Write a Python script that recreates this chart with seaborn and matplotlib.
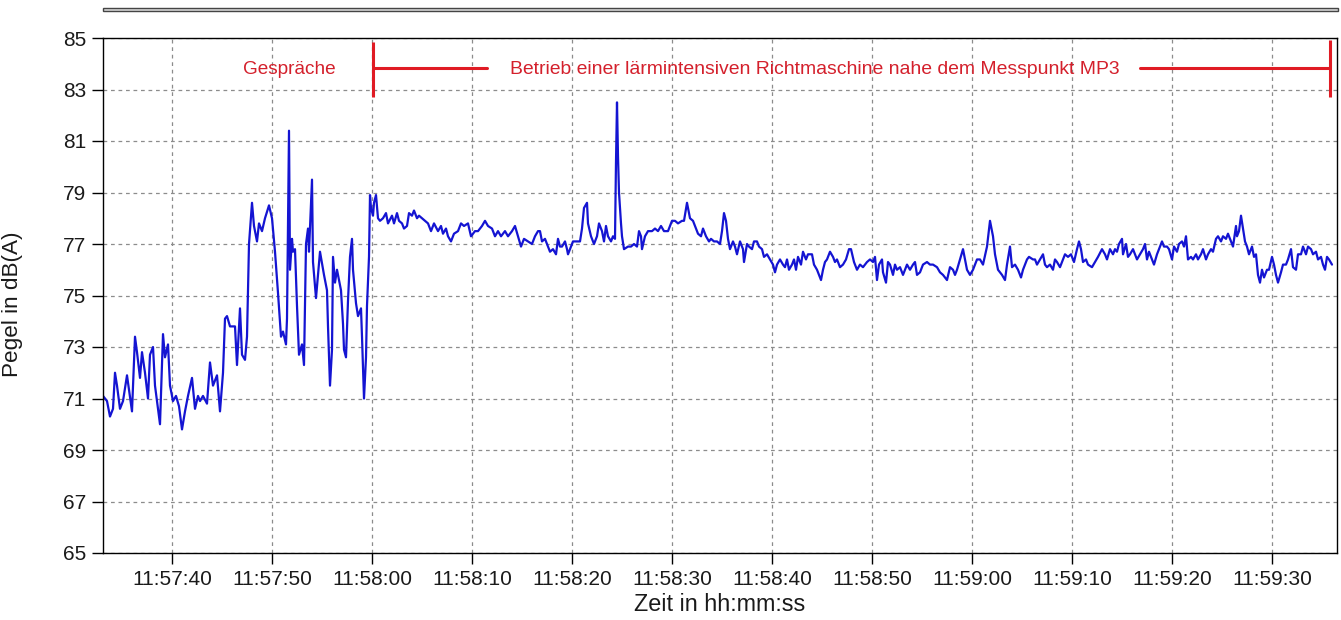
import matplotlib
matplotlib.use("Agg")
import matplotlib.pyplot as plt
import matplotlib.patches as mpatches
from matplotlib.ticker import FixedLocator, FuncFormatter
import seaborn as sns
import pandas as pd

# time in seconds after 11:57:00
t_sec = [
    33.1, 33.5, 33.8, 34.1, 34.3, 34.5, 34.8, 35.1, 35.5, 36.0, 36.3, 36.5, 36.8, 37.0, 37.3, 37.6, 37.8,
    38.1, 38.3, 38.5, 38.8, 39.1, 39.3, 39.6, 39.8, 40.1, 40.4, 40.7, 41.0, 41.3, 41.6, 42.0, 42.3, 42.6,
    42.8, 43.1, 43.5, 43.8, 44.1, 44.5, 44.8, 45.1, 45.3, 45.5, 45.8, 46.3, 46.5, 46.8, 47.0, 47.3, 47.5,
    47.7, 48.0, 48.2, 48.5, 48.7, 49.0, 49.3, 49.7, 50.0, 50.3, 50.6, 50.9, 51.1, 51.4, 51.5, 51.7, 51.8,
    52.0, 52.1, 52.3, 52.5, 52.7, 53.0, 53.2, 53.4, 53.6, 53.7, 54.0, 54.1, 54.4, 54.8, 55.2, 55.5, 55.6,
    55.8, 56.0, 56.1, 56.3, 56.5, 56.6, 56.9, 57.1, 57.2, 57.4, 57.6, 57.8, 58.0, 58.1, 58.4, 58.6, 58.9,
    59.0, 59.2, 59.4, 59.5, 59.7, 59.8, 59.9, 60.1, 60.2, 60.4, 60.6, 60.8, 61.1, 61.4, 61.6, 62.0, 62.2,
    62.5, 62.7, 63.0, 63.2, 63.5, 63.7, 64.0, 64.2, 64.5, 64.7, 65.0, 65.3, 65.6, 65.9, 66.2, 66.6, 66.9,
    67.1, 67.4, 67.6, 67.9, 68.2, 68.6, 68.9, 69.2, 69.6, 69.9, 70.3, 70.6, 71.0, 71.3, 71.6, 72.0, 72.3,
    72.6, 72.9, 73.3, 73.6, 74.0, 74.3, 74.6, 74.9, 75.2, 75.6, 76.0, 76.3, 76.6, 76.8, 77.0, 77.3, 77.6,
    77.8, 78.1, 78.4, 78.6, 78.8, 79.0, 79.3, 79.5, 79.6, 79.9, 80.1, 80.5, 80.8, 81.0, 81.2, 81.5, 81.6,
    81.9, 82.2, 82.5, 82.7, 83.0, 83.2, 83.4, 83.6, 83.9, 84.1, 84.3, 84.4, 84.5, 84.6, 84.7, 84.9, 85.0,
    85.2, 85.6, 85.9, 86.2, 86.5, 86.7, 86.9, 87.0, 87.3, 87.6, 88.0, 88.3, 88.6, 88.9, 89.2, 89.6, 90.0,
    90.3, 90.6, 91.0, 91.2, 91.5, 91.8, 92.1, 92.3, 92.6, 92.9, 93.1, 93.4, 93.7, 93.9, 94.2, 94.5, 94.8,
    95.0, 95.2, 95.4, 95.6, 95.8, 96.1, 96.3, 96.5, 96.8, 97.1, 97.2, 97.5, 97.7, 98.0, 98.2, 98.5, 98.7,
    99.0, 99.2, 99.5, 99.8, 100.1, 100.3, 100.5, 100.8, 101.1, 101.3, 101.5, 101.7, 102.0, 102.2, 102.4,
    102.6, 102.9, 103.1, 103.4, 103.6, 104.0, 104.2, 104.5, 104.7, 104.9, 105.1, 105.3, 105.5, 105.8,
    106.1, 106.3, 106.5, 106.8, 107.1, 107.4, 107.7, 107.9, 108.2, 108.5, 108.8, 109.1, 109.5, 109.8,
    110.1, 110.3, 110.5, 110.7, 111.0, 111.1, 111.4, 111.6, 111.8, 112.1, 112.3, 112.5, 112.8, 113.1,
    113.3, 113.5, 113.8, 114.1, 114.3, 114.5, 114.8, 115.1, 115.5, 115.8, 116.1, 116.5, 116.8, 117.1,
    117.5, 117.8, 118.1, 118.3, 118.5, 118.8, 119.1, 119.3, 119.5, 119.8, 120.1, 120.5, 120.8, 121.1,
    121.5, 121.8, 122.1, 122.3, 122.6, 123.0, 123.3, 123.5, 123.8, 124.0, 124.3, 124.6, 124.9, 125.1,
    125.5, 125.7, 126.1, 126.3, 126.5, 126.8, 127.1, 127.3, 127.5, 127.8, 128.1, 128.3, 128.5, 128.8,
    129.1, 129.3, 129.6, 129.9, 130.2, 130.5, 130.7, 130.9, 131.1, 131.4, 131.6, 132.0, 132.3, 132.6,
    133.0, 133.3, 133.5, 133.8, 134.1, 134.3, 134.5, 134.7, 135.0, 135.1, 135.4, 135.6, 135.8, 136.1,
    136.3, 136.5, 136.8, 137.1, 137.3, 137.5, 137.7, 138.0, 138.2, 138.5, 138.7, 139.0, 139.2, 139.5,
    139.7, 140.0, 140.2, 140.5, 140.7, 141.0, 141.2, 141.4, 141.6, 141.9, 142.1, 142.4, 142.6, 142.9,
    143.1, 143.4, 143.6, 143.9, 144.1, 144.4, 144.6, 144.9, 145.1, 145.4, 145.6, 145.9, 146.1, 146.4,
    146.5, 146.7, 146.9, 147.1, 147.3, 147.5, 147.7, 148.0, 148.2, 148.4, 148.6, 148.8, 149.0, 149.2,
    149.5, 149.7, 150.0, 150.2, 150.4, 150.6, 150.9, 151.1, 151.4, 151.6, 151.9, 152.1, 152.4, 152.6,
    152.9, 153.1, 153.4, 153.6, 153.9, 154.1, 154.4, 154.6, 154.9, 155.1, 155.3, 155.5, 155.7, 156.0,
]

pegel_db = [
    71.1, 70.9, 70.3, 70.6, 72.0, 71.5, 70.6, 70.9, 71.9, 70.5, 73.4, 72.8, 71.8, 72.8, 72.0, 71.0, 72.7,
    73.0, 71.5, 70.9, 70.0, 73.5, 72.6, 73.1, 71.5, 70.9, 71.1, 70.7, 69.8, 70.5, 71.1, 71.8, 70.6, 71.1,
    70.9, 71.1, 70.8, 72.4, 71.5, 71.9, 70.5, 72.0, 74.1, 74.2, 73.8, 73.8, 72.3, 74.5, 72.7, 72.5, 73.4,
    77.0, 78.6, 77.7, 77.1, 77.8, 77.5, 78.0, 78.5, 78.0, 76.7, 75.1, 73.4, 73.6, 73.1, 74.1, 81.4, 76.0,
    77.2, 76.7, 76.8, 74.6, 72.7, 73.1, 72.3, 77.0, 77.6, 76.7, 79.5, 76.3, 74.9, 76.7, 75.8, 75.2, 73.8,
    71.5, 72.9, 76.5, 75.5, 76.0, 75.8, 75.2, 73.9, 72.9, 72.6, 74.8, 76.5, 77.2, 76.0, 74.7, 74.2, 74.5,
    73.4, 71.0, 72.6, 74.6, 76.5, 78.9, 78.4, 78.1, 78.6, 78.9, 78.0, 77.9, 78.0, 78.2, 77.8, 78.1, 77.8,
    78.2, 77.9, 77.8, 77.6, 77.7, 78.2, 78.1, 78.3, 78.0, 78.1, 78.0, 77.9, 77.8, 77.5, 77.8, 77.5, 77.7,
    77.4, 77.6, 77.3, 77.1, 77.4, 77.5, 77.8, 77.7, 77.8, 77.3, 77.5, 77.5, 77.7, 77.9, 77.7, 77.6, 77.3,
    77.5, 77.3, 77.5, 77.3, 77.5, 77.7, 77.3, 76.9, 77.2, 77.1, 77.0, 77.3, 77.5, 77.5, 77.1, 77.2, 76.9,
    76.7, 76.8, 76.6, 77.2, 76.9, 76.9, 77.1, 76.8, 76.6, 76.9, 77.1, 77.1, 77.1, 77.6, 78.4, 78.6, 77.8,
    77.3, 77.0, 77.3, 77.8, 77.5, 77.1, 77.7, 77.3, 77.1, 77.3, 77.2, 80.2, 82.5, 80.4, 79.0, 77.8, 77.3,
    76.8, 76.9, 76.9, 77.0, 76.9, 77.5, 77.3, 76.8, 77.3, 77.5, 77.5, 77.6, 77.5, 77.7, 77.5, 77.5, 77.9,
    77.9, 77.8, 77.9, 77.9, 78.6, 78.0, 77.9, 77.7, 77.4, 77.3, 77.6, 77.3, 77.1, 77.2, 77.1, 77.1, 77.0,
    77.5, 78.2, 77.9, 77.2, 76.8, 77.1, 76.9, 76.6, 77.1, 76.8, 76.3, 77.0, 76.9, 76.8, 77.1, 77.1, 76.9,
    76.8, 76.5, 76.6, 76.4, 76.2, 75.9, 76.2, 76.4, 76.2, 76.1, 76.4, 76.0, 76.2, 76.4, 76.0,
    76.5, 76.2, 76.7, 76.4, 76.6, 76.6, 76.2, 76.0, 75.8, 75.6, 76.0, 76.3, 76.4, 76.7,
    76.5, 76.3, 76.4, 76.1, 76.2, 76.4, 76.8, 76.8, 76.3, 76.0, 76.2, 76.1, 76.3, 76.4,
    76.3, 76.5, 75.6, 76.2, 76.4, 75.9, 75.5, 76.3, 76.2, 75.8, 76.2, 76.0, 76.1, 75.8,
    76.0, 76.2, 76.0, 76.2, 76.3, 75.8, 75.9, 76.2, 76.3, 76.2, 76.2, 76.1, 75.9, 75.8,
    75.6, 76.1, 76.0, 75.8, 76.0, 76.4, 76.8, 76.4, 76.0, 75.8, 76.0, 76.4, 76.4, 76.2,
    76.9, 77.9, 77.3, 76.6, 76.0, 75.8, 75.6, 76.2, 76.9, 76.1, 76.2, 76.0, 75.7, 76.0,
    76.4, 76.5, 76.4, 76.4, 76.2, 76.4, 76.6, 76.2, 76.1, 76.2, 76.0, 76.4, 76.3, 76.1,
    76.4, 76.6, 76.5, 76.6, 76.3, 76.8, 77.1, 76.8, 76.3, 76.4, 76.2, 76.1, 76.3, 76.5,
    76.8, 76.6, 76.4, 76.8, 76.6, 76.8, 76.7, 77.0, 77.2, 76.6, 77.0, 76.5, 76.6, 76.8,
    76.6, 76.4, 76.6, 76.8, 77.0, 76.4, 76.7, 76.4, 76.2, 76.6, 76.8, 77.1, 76.9, 76.9,
    76.8, 76.4, 76.9, 76.7, 77.0, 77.1, 76.9, 77.3, 76.4, 76.5, 76.4, 76.6, 76.4, 76.6,
    76.8, 76.4, 76.6, 76.8, 76.7, 77.2, 77.3, 77.1, 77.3, 77.2, 77.4, 77.1, 76.9, 77.7,
    77.3, 77.5, 78.1, 77.6, 77.1, 76.9, 76.6, 76.9, 76.5, 76.6, 75.8, 75.5, 76.0, 75.7,
    76.0, 76.0, 76.5, 76.2, 75.8, 75.5, 75.9, 76.2, 76.2, 76.4, 76.8, 76.1, 76.0, 76.6,
    76.6, 76.9, 76.6, 76.9, 76.8, 76.6, 76.7, 76.4, 76.5, 76.2, 76.0, 76.5, 76.4, 76.2,
]

x_ticks_sec = [40, 50, 60, 70, 80, 90, 100, 110, 120, 130, 140, 150]
y_ticks = [65, 67, 69, 71, 73, 75, 77, 79, 81, 83, 85]

phase1_label = "Gespräche"
phase2_label = "Betrieb einer lärmintensiven Richtmaschine nahe dem Messpunkt MP3"
phase2_start = 60.1
phase2_end = 155.8

df = pd.DataFrame({"t": t_sec, "db": pegel_db})

sns.set_theme(style="white")
plt.rcParams["font.family"] = ["Liberation Sans", "DejaVu Sans"]

fig = plt.figure(figsize=(13.41, 6.2), dpi=100)
ax = fig.add_axes([103 / 1341, 1 - 553 / 620, (1337 - 103) / 1341, (553 - 38) / 620])

sns.lineplot(data=df, x="t", y="db", ax=ax, color="#1414d2", linewidth=1.6,
             estimator=None, sort=False)

ax.set_xlim(33.1, 156.5)
ax.set_ylim(65, 85)
ax.xaxis.set_major_locator(FixedLocator(x_ticks_sec))
ax.yaxis.set_major_locator(FixedLocator(y_ticks))


def fmt_time(v, pos):
    total = int(round(v)) + 11 * 3600 + 57 * 60
    h = total // 3600
    m = (total % 3600) // 60
    s = total % 60
    return f"{h:02d}:{m:02d}:{s:02d}"


ax.xaxis.set_major_formatter(FuncFormatter(fmt_time))
ax.grid(True, color="#8c8c8c", linestyle=(0, (3, 3)), linewidth=0.9)
ax.set_axisbelow(True)
for sp in ax.spines.values():
    sp.set_visible(True)
    sp.set_color("black")
    sp.set_linewidth(1.0)
ax.tick_params(axis="both", direction="out", length=8, width=1, color="black",
               labelsize=15, labelcolor="#1a1a1a", pad=4, bottom=True, left=True)
ax.set_xlabel("Zeit in hh:mm:ss", fontsize=16.8, color="#1a1a1a", labelpad=3)
ax.set_ylabel("Pegel in dB(A)", fontsize=16.2, color="#1a1a1a")
ax.yaxis.set_label_coords(-0.0645, 0.483)

red = "#e01b24"
txt_red = "#d4202c"
# phase markers
ax.plot([phase2_start, phase2_start], [82.72, 84.85], color=red, lw=2.2, solid_capstyle="butt")
ax.plot([phase2_end, phase2_end], [82.72, 84.92], color=red, lw=2.2, solid_capstyle="butt")
ax.plot([phase2_start, 71.5], [83.84, 83.84], color=red, lw=2.2)
ax.plot([136.8, phase2_end], [83.84, 83.84], color=red, lw=2.2)
ax.text(51.7, 83.76, phase1_label, ha="center", va="center", fontsize=13.7, color=txt_red)
ax.text(104.3, 83.76, phase2_label, ha="center", va="center", fontsize=13.95, color=txt_red)

# double line frame at top
fig.add_artist(mpatches.Rectangle((103 / 1341, 1 - 10.8 / 620), (1338 - 103) / 1341, 2.6 / 620,
                                  transform=fig.transFigure, facecolor="#d8d8d8",
                                  edgecolor="#444444", linewidth=1.0))

fig.savefig("out.png", dpi=100)
